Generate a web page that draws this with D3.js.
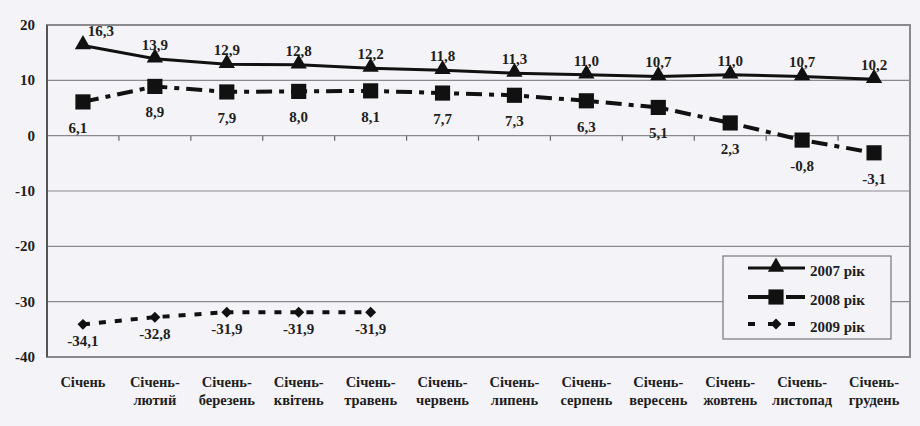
<!DOCTYPE html>
<html><head><meta charset="utf-8">
<script src="https://cdn.jsdelivr.net/npm/d3@7/dist/d3.min.js"></script>
<style>html,body{margin:0;padding:0;background:#f4f3f7;}svg{display:block;}</style>
</head><body><svg id="c" width="920" height="426"></svg>
<script>
const categories = [["Січень"],["Січень-","лютий"],["Січень-","березень"],["Січень-","квітень"],["Січень-","травень"],["Січень-","червень"],["Січень-","липень"],["Січень-","серпень"],["Січень-","вересень"],["Січень-","жовтень"],["Січень-","листопад"],["Січень-","грудень"]];
const s2007 = [16.3,13.9,12.9,12.8,12.2,11.8,11.3,11.0,10.7,11.0,10.7,10.2];
const s2008 = [6.1,8.9,7.9,8.0,8.1,7.7,7.3,6.3,5.1,2.3,-0.8,-3.1];
const s2009 = [-34.1,-32.8,-31.9,-31.9,-31.9];
const yTicks = [20,10,0,-10,-20,-30,-40];
const seriesNames = ["2007 рік","2008 рік","2009 рік"];

const svg = d3.select("#c");
const L=47,R=910,T=25,B=357;
const x = d3.scaleBand().domain(d3.range(12)).range([L,R]);
const y = d3.scaleLinear().domain([-40,20]).range([B,T]);
const cx = i => x(i)+x.bandwidth()/2;
const fmt = v => v.toFixed(1).replace(".",",");
const st = sel => sel.style("font-family","\"Liberation Serif\"").style("font-weight","bold").style("fill","#1e1e1e");

// gridlines
svg.append("g").selectAll("line").data(yTicks).join("line")
  .attr("x1",L).attr("x2",R).attr("y1",d=>y(d)).attr("y2",d=>y(d))
  .attr("stroke","#8a8a8e").attr("stroke-width",1.2);
// frame
svg.append("rect").attr("x",L).attr("y",T).attr("width",R-L).attr("height",B-T)
  .attr("fill","none").attr("stroke","#8a8a8e").attr("stroke-width",2);
svg.append("line").attr("x1",L).attr("x2",L).attr("y1",T).attr("y2",B).attr("stroke","#555").attr("stroke-width",2);
// ticks on zero line
svg.append("g").selectAll("line").data(d3.range(1,12)).join("line")
  .attr("x1",d=>x(d)).attr("x2",d=>x(d)).attr("y1",y(0)).attr("y2",y(0)+5)
  .attr("stroke","#666").attr("stroke-width",1.2);
// y tick labels
svg.append("g").selectAll("text").data(yTicks).join("text")
  .attr("x",35).attr("y",d=>y(d)+5).attr("text-anchor","end")
  .style("font-size","15px").call(st)
  .text(d=>d);
// x labels
const xl = svg.append("g").selectAll("text").data(categories).join("text")
  .attr("text-anchor","middle").style("font-size","14.5px").call(st);
xl.each(function(d,i){
  d.forEach((t,k)=>d3.select(this).append("tspan").attr("x",cx(i)).attr("y",387+k*18).text(t));
});

// lines
const line = d3.line().x((d,i)=>cx(i)).y(d=>y(d));
svg.append("path").datum(s2007).attr("d",line).attr("fill","none").attr("stroke","#111").attr("stroke-width",3);
svg.append("path").datum(s2008).attr("d",line).attr("fill","none").attr("stroke","#111").attr("stroke-width",4).attr("stroke-dasharray","16,7,5,7");
svg.append("path").datum(s2009).attr("d",line).attr("fill","none").attr("stroke","#111").attr("stroke-width",4).attr("stroke-dasharray","7,9");

// markers
const tri = d3.symbol().type(d3.symbolTriangle).size(115);
const sq = d3.symbol().type(d3.symbolSquare).size(230);
const dia = d3.symbol().type(d3.symbolSquare).size(60);
svg.append("g").selectAll("path").data(s2007).join("path").attr("d",tri)
  .attr("transform",(d,i)=>`translate(${cx(i)},${y(d)-1})`).attr("fill","#111");
svg.append("g").selectAll("path").data(s2008).join("path").attr("d",sq)
  .attr("transform",(d,i)=>`translate(${cx(i)},${y(d)})`).attr("fill","#111");
svg.append("g").selectAll("path").data(s2009).join("path").attr("d",dia)
  .attr("transform",(d,i)=>`translate(${cx(i)},${y(d)}) rotate(45)`).attr("fill","#111");

// data labels
const lab = (data,dy,dxf) => svg.append("g").selectAll("text").data(data).join("text")
  .attr("x",(d,i)=>cx(i)+dxf(i)).attr("y",d=>y(d)+dy).attr("text-anchor","middle")
  .style("font-size","15px").call(st)
  .text(fmt);
lab(s2007,-9,i=>i===0?18:0);
lab(s2008,31,i=>i===0?-5:0);
lab(s2009,22,i=>0);

// legend
const lg = svg.append("g");
lg.append("rect").attr("x",723).attr("y",256).attr("width",168).attr("height",83)
  .attr("fill","#f4f3f7").attr("stroke","#777").attr("stroke-width",1.2);
const ly = [268,297,324];
lg.append("line").attr("x1",748).attr("x2",805).attr("y1",ly[0]).attr("y2",ly[0]).attr("stroke","#111").attr("stroke-width",3);
lg.append("path").attr("d",tri).attr("transform",`translate(776,${ly[0]-1})`).attr("fill","#111");
lg.append("line").attr("x1",748).attr("x2",805).attr("y1",ly[1]).attr("y2",ly[1]).attr("stroke","#111").attr("stroke-width",4).attr("stroke-dasharray","22,4,6,6");
lg.append("path").attr("d",sq).attr("transform",`translate(776,${ly[1]})`).attr("fill","#111");
lg.append("line").attr("x1",748).attr("x2",805).attr("y1",ly[2]).attr("y2",ly[2]).attr("stroke","#111").attr("stroke-width",4).attr("stroke-dasharray","7,13");
lg.append("path").attr("d",dia).attr("transform",`translate(776,${ly[2]}) rotate(45)`).attr("fill","#111");
lg.selectAll("text").data(seriesNames).join("text")
  .attr("x",810).attr("y",(d,i)=>ly[i]+8)
  .style("font-size","15px").call(st).text(d=>d);
</script></body></html>
